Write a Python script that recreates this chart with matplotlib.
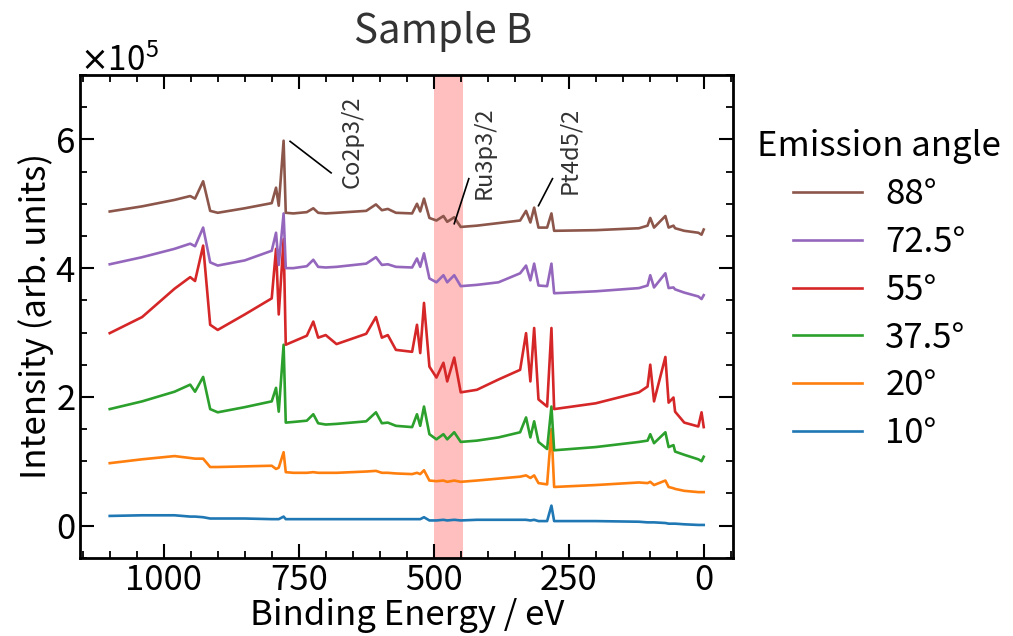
import numpy as np
import matplotlib
matplotlib.use("Agg")
import matplotlib.pyplot as plt
from matplotlib.ticker import MultipleLocator

plt.rcParams['font.family'] = ['Noto Sans CJK JP', 'DejaVu Sans']
plt.rcParams['mathtext.fontset'] = 'dejavusans'

# binding energy grid (eV) and intensities in units of 1e5 counts
energy = [1100, 1040, 980, 951, 942, 927, 914, 900, 850, 800,
          792, 787, 778, 774, 760, 735, 723, 714, 700, 680,
          625, 607, 596, 585, 570, 540, 531, 525, 518, 508,
          495, 482, 475, 462, 450, 420, 380, 340, 329, 321,
          314, 306, 290, 282, 277, 200, 120, 104, 99, 92,
          71, 65, 56, 53, 36, 10, 4, 0]

i_88 = [4.88, 4.96, 5.06, 5.12, 5.08, 5.35, 4.89, 4.86, 4.93, 5.01,
        5.25, 4.97, 5.98, 4.86, 4.85, 4.87, 4.93, 4.86, 4.85, 4.86,
        4.89, 4.99, 4.90, 4.92, 4.86, 4.85, 5.00, 4.88, 5.08, 4.78,
        4.74, 4.81, 4.72, 4.79, 4.64, 4.66, 4.70, 4.74, 4.89, 4.71,
        4.94, 4.63, 4.63, 4.85, 4.58, 4.59, 4.62, 4.66, 4.78, 4.63,
        4.81, 4.63, 4.66, 4.62, 4.58, 4.55, 4.52, 4.60]

i_725 = [4.06, 4.17, 4.30, 4.38, 4.34, 4.63, 4.09, 4.04, 4.12, 4.27,
         4.55, 4.05, 4.85, 4.00, 4.00, 4.03, 4.13, 4.02, 4.01, 4.02,
         4.07, 4.17, 4.05, 4.06, 4.02, 4.01, 4.15, 4.02, 4.23, 3.84,
         3.78, 3.89, 3.78, 3.89, 3.72, 3.74, 3.78, 3.92, 4.04, 3.81,
         4.07, 3.73, 3.72, 4.07, 3.61, 3.64, 3.69, 3.73, 3.89, 3.70,
         3.92, 3.69, 3.70, 3.67, 3.62, 3.56, 3.52, 3.58]

i_55 = [2.99, 3.24, 3.68, 3.86, 3.80, 4.35, 3.12, 3.04, 3.28, 3.53,
        4.30, 3.28, 4.45, 2.81, 2.86, 2.95, 3.17, 2.92, 2.96, 2.82,
        2.98, 3.24, 2.92, 2.96, 2.73, 2.70, 3.12, 2.68, 3.46, 2.47,
        2.30, 2.53, 2.24, 2.61, 2.07, 2.11, 2.27, 2.42, 2.99, 2.24,
        3.07, 1.96, 1.85, 3.07, 1.81, 1.90, 2.07, 2.16, 2.50, 1.93,
        2.62, 1.91, 1.99, 1.77, 1.60, 1.54, 1.76, 1.53]

i_375 = [1.81, 1.93, 2.08, 2.19, 2.08, 2.31, 1.81, 1.76, 1.84, 1.93,
         2.14, 1.77, 2.81, 1.60, 1.61, 1.63, 1.73, 1.59, 1.57, 1.58,
         1.62, 1.76, 1.59, 1.60, 1.55, 1.53, 1.73, 1.55, 1.85, 1.42,
         1.34, 1.42, 1.34, 1.45, 1.30, 1.32, 1.37, 1.45, 1.68, 1.37,
         1.62, 1.30, 1.19, 1.85, 1.17, 1.22, 1.30, 1.32, 1.42, 1.28,
         1.45, 1.22, 1.25, 1.15, 1.10, 1.03, 1.00, 1.07]

i_20 = [0.97, 1.03, 1.08, 1.05, 1.04, 1.04, 0.91, 0.91, 0.92, 0.93,
        0.88, 0.90, 1.14, 0.83, 0.82, 0.82, 0.83, 0.82, 0.82, 0.82,
        0.84, 0.85, 0.82, 0.82, 0.81, 0.80, 0.82, 0.80, 0.86, 0.70,
        0.69, 0.70, 0.68, 0.70, 0.68, 0.70, 0.73, 0.76, 0.78, 0.74,
        0.78, 0.66, 0.64, 1.50, 0.60, 0.63, 0.67, 0.66, 0.68, 0.63,
        0.70, 0.60, 0.58, 0.57, 0.54, 0.52, 0.52, 0.52]

i_10 = [0.15, 0.16, 0.16, 0.14, 0.14, 0.13, 0.11, 0.11, 0.11, 0.10,
        0.10, 0.10, 0.14, 0.10, 0.10, 0.10, 0.10, 0.10, 0.10, 0.10,
        0.10, 0.10, 0.10, 0.10, 0.10, 0.10, 0.10, 0.10, 0.13, 0.08,
        0.08, 0.09, 0.08, 0.09, 0.08, 0.09, 0.09, 0.09, 0.09, 0.08,
        0.09, 0.07, 0.07, 0.31, 0.07, 0.07, 0.06, 0.05, 0.05, 0.05,
        0.04, 0.03, 0.03, 0.03, 0.02, 0.01, 0.01, 0.01]

angles = ['10°', '20°', '37.5°', '55°', '72.5°', '88°']
series = [i_10, i_20, i_375, i_55, i_725, i_88]

# peak labels: (text, peak position, leader end, text anchor)
peak_labels = [('Co2p3/2', (766, 5.97), (690, 5.48), (673, 5.25)),
               ('Ru3p3/2', (462, 4.69), (435, 5.39), (428, 5.08)),
               ('Pt4d5/2', (306, 4.97), (280, 5.39), (269, 5.15))]

FS = 25

fig = plt.figure(figsize=(10.13, 6.36), dpi=100)
ax = fig.add_axes([0.079, 0.123, 0.645, 0.759])

x = np.array(energy)
for lab, s in zip(angles, series):
    ax.plot(x, np.array(s) * 1e5, lw=1.9, label=lab)

ax.axvspan(445, 500, color='red', alpha=0.25, lw=0)

for txt, pk, le, tp in peak_labels:
    ax.plot([pk[0], le[0]], [pk[1] * 1e5, le[1] * 1e5], color='k', lw=1.2)
    ax.text(tp[0], tp[1] * 1e5, txt, rotation=90, ha='left', va='bottom',
            fontsize=17, color='#333333')

ax.set_xlim(1155, -55)
ax.set_ylim(-0.5e5, 7e5)
ax.xaxis.set_major_locator(MultipleLocator(250))
ax.xaxis.set_minor_locator(MultipleLocator(50))
ax.yaxis.set_major_locator(MultipleLocator(2e5))
ax.yaxis.set_minor_locator(MultipleLocator(0.5e5))
ax.ticklabel_format(style='sci', axis='y', scilimits=(0, 0), useMathText=True)
ax.yaxis.get_offset_text().set_fontsize(FS - 1)

ax.tick_params(which='both', direction='in', top=True, right=True, labelsize=FS)
ax.tick_params(which='major', length=10, width=1.5)
ax.tick_params(which='minor', length=5, width=1.3)
for sp in ax.spines.values():
    sp.set_linewidth(2)

ax.set_xlabel('Binding Energy / eV', fontsize=FS, labelpad=0)
ax.set_ylabel('Intensity (arb. units)', fontsize=FS, labelpad=1)
fig.text(0.437, 0.95, 'Sample B', fontsize=29, ha='center', va='center', color='#333333')

h, l = ax.get_legend_handles_labels()
leg = ax.legend(h[::-1], l[::-1], title='Emission angle', loc='upper left',
                bbox_to_anchor=(726 / 1013, 1 - 98 / 636), bbox_transform=fig.transFigure,
                frameon=False, fontsize=FS, title_fontsize=FS, handlelength=2.0,
                labelspacing=0.37, handletextpad=0.66)

fig.savefig('out.png', dpi=100)
